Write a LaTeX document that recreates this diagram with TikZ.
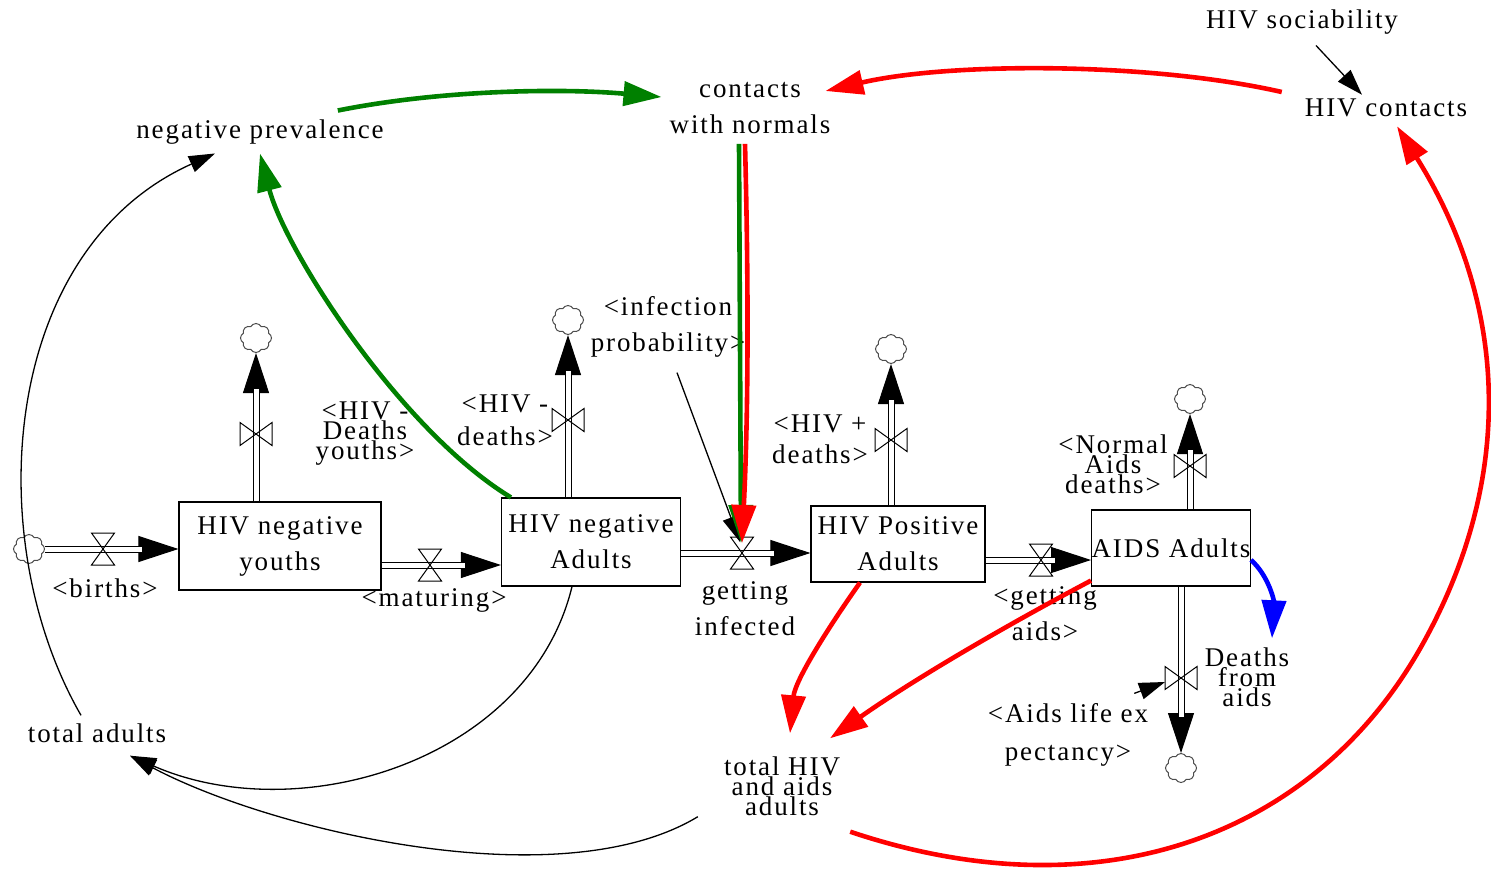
\documentclass[tikz,border=0pt]{standalone}
\usepackage{fontspec}
\setmainfont[LetterSpace=7]{Liberation Serif}
\usetikzlibrary{arrows.meta,shapes.symbols}

\definecolor{vgreen}{RGB}{0,128,0}
\newcommand\lab{\fontsize{27}{36}\selectfont}
\newcommand\tightlab{\fontsize{27}{20}\selectfont}

\tikzset{
  stock/.style={draw, line width=1.2pt, inner sep=0pt, align=center, font=\lab},
  aux/.style={inner sep=1pt, align=center, font=\lab},
  tightaux/.style={aux, font=\tightlab},
  sink/.style={cloud, cloud puffs=8, cloud puff arc=125, aspect=1, draw=black!70,
    line width=1pt, minimum width=31pt, minimum height=29pt, inner sep=0pt},
  pipe/.style={draw, double, double distance=5pt, line width=1pt, shorten >=36pt},
  flowtip/.style={-{Triangle[length=40pt,width=26pt]}, line width=1pt},
  link/.style={-{Triangle[length=26pt,width=17pt]}, line width=1.3pt},
  plink/.style={-{Triangle[length=38pt,width=24pt]}, line width=4.6pt},
  valve/.pic={\draw[line width=1pt] (-11.5,-16) -- (11.5,-16) -- (-11.5,16) -- (11.5,16) -- cycle;}
}

\begin{document}
\begin{tikzpicture}[x=1pt,y=-1pt]
  \useasboundingbox (0,0) rectangle (1491,870);

  % Stocks
  \node[stock, minimum width=202pt, minimum height=88pt] (youths) at (280,546) {HIV negative\\youths};
  \node[stock, minimum width=179pt, minimum height=88pt] (nadults) at (591,542) {HIV negative\\Adults};
  \node[stock, minimum width=174pt, minimum height=76pt] (padults) at (898,544) {HIV Positive\\Adults};
  \node[stock, minimum width=155pt, minimum height=76pt] (aids) at (1171,548) {AIDS Adults};

  % Sources and sinks
  \node[sink] (cbirth) at (29,549) {};
  \node[sink] (cyd) at (256,338) {};
  \node[sink] (cad) at (568,320) {};
  \node[sink] (cpd) at (891,349) {};
  \node[sink] (cnd) at (1190,399) {};
  \node[sink] (cda) at (1181,768) {};

  % Valve positions
  \coordinate (vbirth) at (103,549);
  \coordinate (vmat) at (430,565);
  \coordinate (vinf) at (742,553);
  \coordinate (vgaids) at (1041,560);
  \coordinate (vyd) at (256,434);
  \coordinate (vad) at (568,420);
  \coordinate (vpd) at (891,440);
  \coordinate (vnd) at (1190,466);
  \coordinate (vda) at (1181,678);

  % Flow pipes
  \foreach \a/\b in {cbirth.east/vbirth -| youths.west,
                     vmat -| youths.east/vmat -| nadults.west,
                     vinf -| nadults.east/vinf -| padults.west,
                     vgaids -| padults.east/vgaids -| aids.west,
                     vyd |- youths.north/cyd.south,
                     vad |- nadults.north/cad.south,
                     vpd |- padults.north/cpd.south,
                     vnd |- aids.north/cnd.south,
                     vda |- aids.south/cda.north}
  {
    \draw[flowtip] (\a) -- (\b);
    \draw[pipe] (\a) -- (\b);
  }
  \foreach \v in {vbirth,vmat,vinf,vgaids} \pic at (\v) {valve};
  \foreach \v in {vyd,vad,vpd,vnd,vda} \pic[rotate=90] at (\v) {valve};

  % Flow names
  \node[aux] (lbirth) at (105,588) {<births>};
  \node[aux] (lmat) at (434,600) {<maturing>};
  \node[aux] (linf) at (745,609) {getting\\infected};
  \node[aux] (lgaids) at (1045,614) {<getting\\aids>};
  \node[tightaux] (lyd) at (365,434) {<HIV -\\Deaths\\youths>};
  \node[aux, font=\fontsize{27}{33}\selectfont] (lad) at (505,420) {<HIV -\\deaths>};
  \node[aux, font=\fontsize{27}{31}\selectfont] (lpd) at (820,439) {<HIV +\\deaths>};
  \node[tightaux] (lnd) at (1113,464) {<Normal\\Aids\\deaths>};
  \node[tightaux] (dfa) at (1247,677) {Deaths\\from\\aids};

  % Auxiliaries
  \node[aux] (negprev) at (260,132) {negative prevalence};
  \node[aux] (contacts) at (750,108) {contacts\\with normals};
  \node[aux] (soc) at (1302,22) {HIV sociability};
  \node[aux] (hivc) at (1386,108) {HIV contacts};
  \node[aux] (tadults) at (97,733) {total adults};
  \node[tightaux] (thiv) at (782,786) {total HIV\\and aids\\adults};
  \node[aux] (infp) at (668,327) {<infection\\probability>};
  \node[aux, font=\fontsize{27}{38}\selectfont] (life) at (1068,735) {<Aids life ex\\pectancy>};

  % Black links
  \draw[link] ([xshift=-16pt,yshift=7pt]tadults.north) .. controls (-20,540) and (0,250) .. ([xshift=-45pt,yshift=-8pt]negprev.south);
  \draw[link] ([xshift=-19pt]nadults.south) .. controls (530,760) and (300,830) .. ([xshift=33pt,yshift=-12pt]tadults.south);
  \draw[link] ([xshift=-25pt]thiv.south west) .. controls (560,900) and (270,830) .. ([xshift=33pt,yshift=-12pt]tadults.south);
  \draw[link] ([xshift=14pt,yshift=-10pt]soc.south) -- ([xshift=-24pt,yshift=3pt]hivc.north);
  \draw[link] ([xshift=9pt,yshift=-14pt]infp.south) -- ([xshift=-2pt,yshift=11pt]vinf);
  \draw[link] ([xshift=-15pt,yshift=9pt]life.north east) -- ([xshift=-16pt,yshift=-4pt]vda);

  % Green links
  \draw[plink, vgreen] ([xshift=10pt]nadults.north west) .. controls (400,430) and (285,250) .. ([yshift=-8pt]negprev.south);
  \draw[plink, vgreen] ([xshift=-47pt,yshift=8pt]negprev.north east) .. controls (440,90) and (560,88) .. ([xshift=-7pt,yshift=11pt]contacts.west);
  \draw[plink, vgreen] ([xshift=-11pt,yshift=-9pt]contacts.south) -- ([xshift=-1pt,yshift=10pt]vinf);

  % Red links
  \draw[plink, red] ([xshift=-5pt,yshift=-9pt]contacts.south) .. controls (749,300) and (748,420) .. ([yshift=10pt]vinf);
  \draw[plink, red] ([xshift=-22pt,yshift=16pt]hivc.west) .. controls (1150,62) and (950,62) .. ([xshift=-6pt,yshift=17pt]contacts.east);
  \draw[plink, red] ([xshift=-38pt]padults.south) .. controls (830,625) and (795,680) .. ([xshift=8pt,yshift=22pt]thiv.north);
  \draw[plink, red] ([yshift=6pt]aids.south west) .. controls (1020,618) and (920,675) .. ([xshift=48pt,yshift=17pt]thiv.north);
  \draw[plink, red] ([xshift=9pt,yshift=-15pt]thiv.south east) .. controls (1098,915) and (1313,838) .. (1421,647)
    .. controls (1519,473) and (1505,299) .. ([xshift=11pt,yshift=-8pt]hivc.south);

  % Blue link
  \draw[plink, blue] ([yshift=-12pt]aids.east) .. controls (1268,575) and (1274,600) .. ([xshift=25pt,yshift=8pt]dfa.north);
\end{tikzpicture}
\end{document}
